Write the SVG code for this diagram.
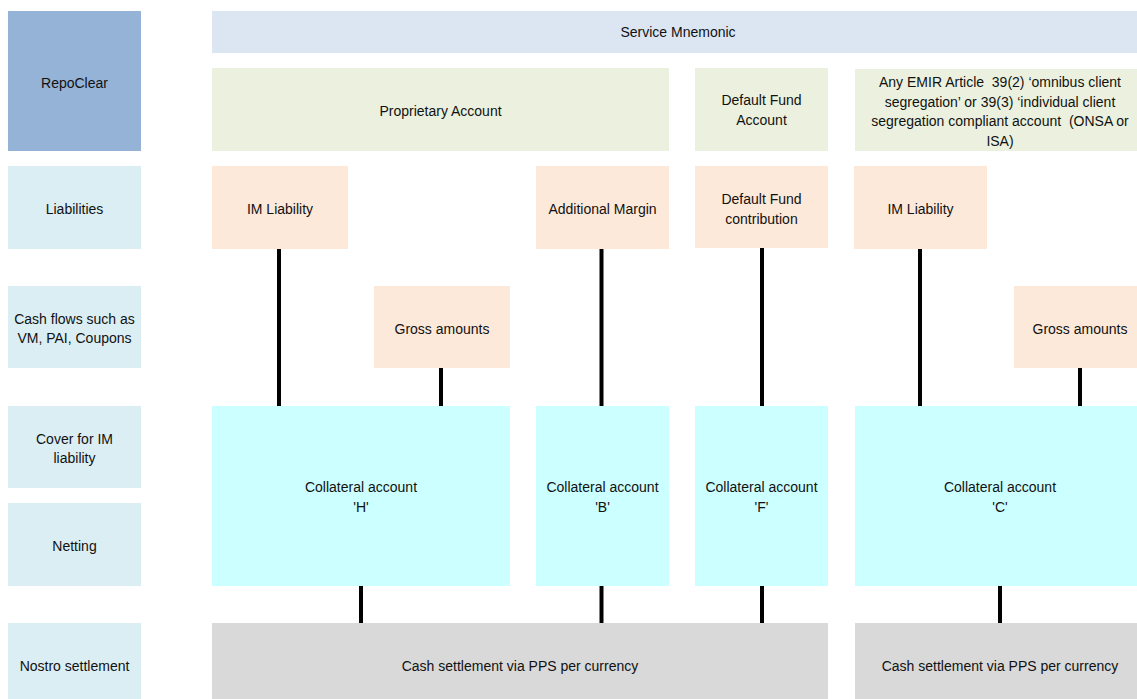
<svg xmlns="http://www.w3.org/2000/svg" width="1137" height="699" viewBox="0 0 1137 699">
<style>
text{font-family:"Liberation Sans",Arial,sans-serif;font-size:14px;fill:#111;text-anchor:middle}
.hdr{fill:#DBEEF4}
.repo{fill:#95B3D7}
.svc{fill:#DCE6F2}
.acc{fill:#EBF1DE}
.liab{fill:#FDE9D9}
.coll{fill:#CCFFFF}
.cash{fill:#D9D9D9}
.conn{stroke:#000;stroke-width:4;fill:none}
</style>
<rect width="1137" height="699" fill="#fff"/>
<g id="row-labels">
<g id="repoclear"><rect class="repo" x="8" y="11" width="133" height="140"/><text x="74.5" y="88">RepoClear</text></g>
<g id="liabilities"><rect class="hdr" x="8" y="166" width="133" height="83"/><text x="74.5" y="214">Liabilities</text></g>
<g id="cashflows"><rect class="hdr" x="8" y="286" width="133" height="82"/><text x="74.5" y="324">Cash flows such as</text><text x="74.5" y="343">VM, PAI, Coupons</text></g>
<g id="cover"><rect class="hdr" x="8" y="406" width="133" height="82"/><text x="74.5" y="444">Cover for IM</text><text x="74.5" y="463">liability</text></g>
<g id="netting"><rect class="hdr" x="8" y="503" width="133" height="83"/><text x="74.5" y="551">Netting</text></g>
<g id="nostro"><rect class="hdr" x="8" y="623" width="133" height="76"/><text x="74.5" y="671">Nostro settlement</text></g>
</g>
<g id="service-mnemonic"><rect class="svc" x="212" y="11" width="933" height="42"/><text x="678" y="37">Service Mnemonic</text></g>
<g id="proprietary-account"><rect class="acc" x="212" y="68" width="457" height="83"/><text x="440.5" y="116">Proprietary Account</text></g>
<g id="default-fund-account"><rect class="acc" x="695" y="68" width="133" height="83"/><text x="761.5" y="105">Default Fund</text><text x="761.5" y="125">Account</text></g>
<g id="emir-account"><rect class="acc" x="855" y="69" width="290" height="82"/>
<text x="1000" y="87" xml:space="preserve">Any EMIR Article  39(2) ‘omnibus client</text>
<text x="1000" y="106.5">segregation’ or 39(3) ‘individual client</text>
<text x="1000" y="126" xml:space="preserve">segregation compliant account  (ONSA or</text>
<text x="1000" y="145.5">ISA)</text></g>
<g id="im-liability-h"><rect class="liab" x="212" y="166" width="136" height="83"/><text x="280" y="214">IM Liability</text></g>
<g id="additional-margin"><rect class="liab" x="536" y="166" width="133" height="83"/><text x="602.5" y="214">Additional Margin</text></g>
<g id="default-fund-contribution"><rect class="liab" x="695" y="166" width="133" height="82"/><text x="761.5" y="204">Default Fund</text><text x="761.5" y="224">contribution</text></g>
<g id="im-liability-c"><rect class="liab" x="854" y="166" width="133" height="83"/><text x="920.5" y="214">IM Liability</text></g>
<g id="gross-amounts-h"><rect class="liab" x="374" y="286" width="136" height="82"/><text x="442" y="334">Gross amounts</text></g>
<g id="gross-amounts-c"><rect class="liab" x="1014" y="286" width="136" height="82"/><text x="1080" y="334">Gross amounts</text></g>
<g id="collateral-h"><rect class="coll" x="212" y="406" width="298" height="180"/><text x="361" y="492">Collateral account</text><text x="361" y="512">'H'</text></g>
<g id="collateral-b"><rect class="coll" x="536" y="406" width="133" height="180"/><text x="602.5" y="492">Collateral account</text><text x="602.5" y="512">'B'</text></g>
<g id="collateral-f"><rect class="coll" x="695" y="406" width="133" height="180"/><text x="761.5" y="492">Collateral account</text><text x="761.5" y="512">'F'</text></g>
<g id="collateral-c"><rect class="coll" x="855" y="406" width="290" height="180"/><text x="1000" y="492">Collateral account</text><text x="1000" y="512">'C'</text></g>
<g id="cash-settlement-1"><rect class="cash" x="212" y="623" width="616" height="76"/><text x="520" y="671">Cash settlement via PPS per currency</text></g>
<g id="cash-settlement-2"><rect class="cash" x="855" y="623" width="290" height="76"/><text x="1000" y="671">Cash settlement via PPS per currency</text></g>
<g id="connectors">
<line class="conn" x1="279" y1="249" x2="279" y2="406"/>
<line class="conn" x1="441" y1="368" x2="441" y2="406"/>
<line class="conn" x1="601.5" y1="249" x2="601.5" y2="406"/>
<line class="conn" x1="762" y1="248" x2="762" y2="406"/>
<line class="conn" x1="920" y1="249" x2="920" y2="406"/>
<line class="conn" x1="1080" y1="368" x2="1080" y2="406"/>
<line class="conn" x1="361" y1="586" x2="361" y2="623"/>
<line class="conn" x1="601.5" y1="586" x2="601.5" y2="623"/>
<line class="conn" x1="762" y1="586" x2="762" y2="623"/>
<line class="conn" x1="1000" y1="586" x2="1000" y2="623"/>
</g>
</svg>
